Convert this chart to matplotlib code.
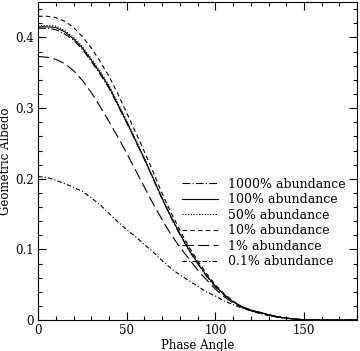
import matplotlib
matplotlib.use('Agg')
from matplotlib import pyplot as plt
from matplotlib.ticker import MultipleLocator

plt.rcParams['font.family'] = 'DejaVu Serif'

# phase angle grid (degrees)
angle = [0, 5, 10, 15, 20, 25, 30, 35, 40, 45, 50, 55, 60, 65, 70, 75, 80, 85, 90,
         95, 100, 105, 110, 115, 120, 125, 130, 135, 140, 145, 150, 155, 160, 170, 180]

# geometric albedo
a1000 = [0.413, 0.413, 0.411, 0.405, 0.396, 0.383, 0.366, 0.348, 0.328, 0.304, 0.279,
         0.253, 0.227, 0.199, 0.171, 0.145, 0.121, 0.099, 0.080, 0.062, 0.047, 0.035,
         0.026, 0.019, 0.014, 0.011, 0.0075, 0.0048, 0.0028, 0.0014, 0.0006, 0.0002,
         0.0, 0.0, 0.0]
a100 = [0.415, 0.415, 0.414, 0.408, 0.398, 0.385, 0.368, 0.350, 0.330, 0.305, 0.280,
        0.254, 0.228, 0.200, 0.172, 0.146, 0.122, 0.100, 0.081, 0.063, 0.048, 0.036,
        0.026, 0.019, 0.014, 0.011, 0.0075, 0.0048, 0.0028, 0.0014, 0.0006, 0.0002,
        0.0, 0.0, 0.0]
a50 = [0.417, 0.417, 0.416, 0.410, 0.400, 0.387, 0.370, 0.352, 0.332, 0.307, 0.282,
       0.256, 0.229, 0.201, 0.173, 0.147, 0.123, 0.101, 0.081, 0.063, 0.048, 0.036,
       0.026, 0.019, 0.014, 0.011, 0.0075, 0.0048, 0.0028, 0.0014, 0.0006, 0.0002,
       0.0, 0.0, 0.0]
a10 = [0.430, 0.430, 0.428, 0.423, 0.414, 0.401, 0.385, 0.366, 0.345, 0.320, 0.293,
       0.266, 0.238, 0.209, 0.179, 0.152, 0.127, 0.104, 0.084, 0.066, 0.050, 0.037,
       0.027, 0.019, 0.014, 0.011, 0.0075, 0.0048, 0.0028, 0.0014, 0.0006, 0.0002,
       0.0, 0.0, 0.0]
a1 = [0.373, 0.372, 0.369, 0.363, 0.353, 0.339, 0.322, 0.302, 0.281, 0.259, 0.236,
      0.212, 0.188, 0.164, 0.142, 0.121, 0.103, 0.087, 0.071, 0.057, 0.044, 0.033,
      0.024, 0.018, 0.013, 0.010, 0.007, 0.0045, 0.0027, 0.0013, 0.0005, 0.0002,
      0.0, 0.0, 0.0]
a01 = [0.203, 0.202, 0.198, 0.193, 0.188, 0.182, 0.173, 0.163, 0.151, 0.139, 0.128,
       0.118, 0.107, 0.096, 0.084, 0.073, 0.064, 0.056, 0.048, 0.040, 0.034, 0.027,
       0.022, 0.017, 0.013, 0.0095, 0.0065, 0.004, 0.0025, 0.0013, 0.0006, 0.0002,
       0.0, 0.0, 0.0]

labels = ['1000% abundance', '100% abundance', '50% abundance',
          '10% abundance', '1% abundance', '0.1% abundance']

fig = plt.figure(figsize=(3.6, 3.51), dpi=100)
ax = fig.add_axes([0.106, 0.088, 0.886, 0.906])

lw = 0.8
ax.plot(angle, a1000, c='black', lw=lw, dashes=(7, 2, 1, 2), label=labels[0])
ax.plot(angle, a100, c='black', lw=lw, ls='-', label=labels[1])
ax.plot(angle, a50, c='black', lw=lw, dashes=(1, 1.5), label=labels[2])
ax.plot(angle, a10, c='black', lw=lw, dashes=(4, 3), label=labels[3])
ax.plot(angle, a1, c='black', lw=lw, dashes=(10, 4), label=labels[4])
ax.plot(angle, a01, c='black', lw=lw, dashes=(4, 2, 1, 2), label=labels[5])

ax.set_xlim(0, 180)
ax.set_ylim(0, 0.45)
ax.xaxis.set_minor_locator(MultipleLocator(10))
ax.yaxis.set_minor_locator(MultipleLocator(0.02))
ax.set_xticks([0, 50, 100, 150])
ax.set_xticklabels(['0', '50', '100', '150'])
ax.set_yticks([0, 0.1, 0.2, 0.3, 0.4])
ax.set_yticklabels(['0', '0.1', '0.2', '0.3', '0.4'])
ax.tick_params(which='both', direction='in', top=True, right=True, labelsize=8.5)
ax.tick_params(which='major', length=6, width=0.8, pad=3)
ax.tick_params(which='minor', length=3, width=0.8)
for s in ax.spines.values():
    s.set_linewidth(0.8)

ax.set_xlabel('Phase Angle', fontsize=8.5, labelpad=1)
ax.set_ylabel('Geometric Albedo', fontsize=8.5)
ax.yaxis.set_label_coords(-0.083, 0.5)

ax.legend(loc='center left', bbox_to_anchor=(0.45, 0.305), frameon=False,
          fontsize=9, handlelength=2.9, handletextpad=0.8, labelspacing=0.2,
          borderpad=0, borderaxespad=0)

plt.savefig('out.png', dpi=100)
